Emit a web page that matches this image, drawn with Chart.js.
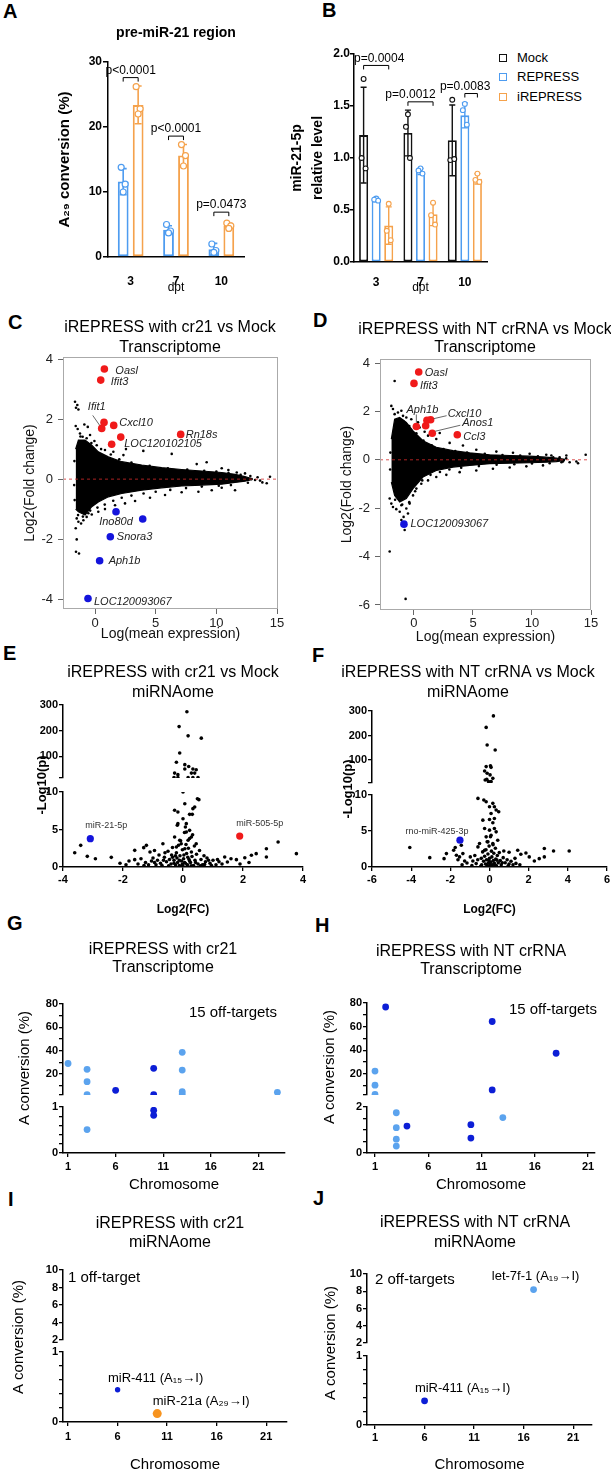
<!DOCTYPE html>
<html>
<head>
<meta charset="utf-8">
<title>iREPRESS figure</title>
<script src="https://cdn.jsdelivr.net/npm/chart.js@4.4.1/dist/chart.umd.min.js"></script>
<style>
  html, body { margin: 0; padding: 0; background: #fff; overflow: hidden; }
  #page { position: relative; width: 611px; height: 1471px; overflow: hidden; background: #fff;
          font-family: "Liberation Sans", Arial, Helvetica, sans-serif; color: #000; }
  #page canvas { position: absolute; }
  .tag { position: absolute; font-size: 20px; line-height: 20px; font-weight: bold; }
  .leg { position: absolute; left: 499px; font-size: 13px; line-height: 16px; white-space: nowrap; }
  .leg span { display: inline-block; width: 6px; height: 6px; border: 1.6px solid; margin-right: 10px; vertical-align: 0px; }
</style>
</head>
<body>
<div id="page">
  <div class="tag" style="left:3px;top:1px">A</div>
  <div class="tag" style="left:322px;top:0px">B</div>
  <div class="tag" style="left:8px;top:312px">C</div>
  <div class="tag" style="left:313px;top:310px">D</div>
  <div class="tag" style="left:3px;top:643px">E</div>
  <div class="tag" style="left:312px;top:645px">F</div>
  <div class="tag" style="left:7px;top:913px">G</div>
  <div class="tag" style="left:315px;top:915px">H</div>
  <div class="tag" style="left:8px;top:1189px">I</div>
  <div class="tag" style="left:313px;top:1188px">J</div>
</div>
<script>
// ---------------- data ----------------
const dpt = ['3', '7', '10'];

// A: A29 conversion of the pre-miR-21 region
const aRepMean = [11.6, 4.2, 1.2];
const aRepSd = [2.0, 0.6, 0.9];
const aRepPts = [[13.8, 11.2, 10.0], [5.0, 4.0, 3.7], [2.0, 1.0, 0.7]];
const aIrpMean = [23.4, 15.6, 4.8];
const aIrpSd = [2.9, 1.7, 0.4];
const aIrpPts = [[26.2, 22.8, 22.0], [17.3, 15.6, 14.0], [5.2, 4.8, 4.4]];
const aP = ['p<0.0001', 'p<0.0001', 'p=0.0473'];
const aPy = [27.6, 18.6, 6.9];
const aTicks = [0, 10, 20, 30];

// B: miR-21-5p relative level
const bSeries = ['Mock', 'REPRESS', 'iREPRESS'];
const bMean = [[1.22, 1.24, 1.17], [0.60, 0.87, 1.41], [0.35, 0.46, 0.80]];
const bSd = [[0.46, 0.22, 0.34], [0.02, 0.03, 0.12], [0.18, 0.11, 0.05]];
const bPts = [
  [[1.76, 1.00, 0.90], [1.42, 1.30, 1.00], [1.56, 0.98, 0.99]],
  [[0.61, 0.60, 0.59], [0.90, 0.88, 0.85], [1.52, 1.46, 1.32]],
  [[0.56, 0.30, 0.21], [0.57, 0.45, 0.36], [0.85, 0.79, 0.77]]
];
const bP = ['p=0.0004', 'p=0.0012', 'p=0.0083'];
const bPy = [1.89, 1.54, 1.62];
const bPpair = [[0, 2], [0, 2], [1, 2]];
const bTicks = [0, 0.5, 1, 1.5, 2];

// C: MA plot, iREPRESS with cr21 vs Mock (transcriptome)
const cEnvX  = [-1.6, -1.37, -0.82, -0.27, 0.27, 1.10, 2.20, 3.85, 5.49, 7.14, 8.79, 10.44, 11.54, 12.36, 12.9];
const cEnvHi = [1.0, 1.3, 1.3, 1.13, 0.91, 0.74, 0.58, 0.47, 0.38, 0.32, 0.27, 0.22, 0.16, 0.08, 0.02];
const cEnvLo = [-1.0, -1.09, -1.2, -0.92, -0.76, -0.59, -0.48, -0.37, -0.29, -0.23, -0.2, -0.17, -0.11, -0.07, -0.02];
const cDots = [
  [-1.65, 2.58], [-1.57, 2.38], [-1.37, 2.32], [-1.46, 2.47], [-1.59, 1.77], [-1.43, 1.67], [-0.88, 1.82], [-0.6, 1.74],
  [-1.24, 1.52], [-1.02, 1.41], [-0.69, 1.36], [-0.41, 1.47], [-0.05, 1.27], [0.14, 1.13], [0.82, 0.97], [1.51, 0.91],
  [2.34, 0.8], [2.55, 1.0], [3.98, 0.94], [6.32, 0.84], [8.38, 0.5], [9.2, 0.56], [10.44, 0.36], [10.99, 0.3],
  [11.68, 0.22], [12.36, 0.19], [12.91, 0], [13.19, -0.03], [13.79, -0.11], [14.15, -0.14], [14.42, 0.08], [12.09, -0.03],
  [11.54, -0.37], [10.44, -0.29], [9.62, -0.37], [8.52, -0.42], [7.14, -0.44], [5.77, -0.53], [4.53, -0.62], [3.3, -0.73],
  [2.47, -0.81], [1.65, -0.87], [0.82, -1.0], [0.27, -1.09], [-0.27, -1.18], [-0.69, -1.26], [-0.96, -1.37], [-1.15, -1.48],
  [-1.37, -1.42], [-1.51, -1.31], [-1.59, -1.64], [-1.51, -2.01], [-1.57, -2.42], [-1.32, -2.48], [-0.82, -1.09], [-0.55, -1.14],
  [-1.7, 0.6], [-1.72, -0.2], [-1.68, -0.7], [-1.2, 1.42], [-0.3, 1.2], [0.5, 1.0], [1.3, 0.82], [2.0, 0.66], [3.0, 0.55],
  [4.5, 0.44], [6.0, 0.36], [7.6, 0.32], [9.0, 0.28], [10.0, 0.25], [11.0, 0.2], [12.0, 0.14], [12.8, 0.1], [13.4, 0.06],
  [13.6, -0.05], [12.6, -0.12], [11.2, -0.2], [10.2, -0.22], [8.8, -0.25], [7.5, -0.3], [6.2, -0.36], [5.0, -0.42],
  [4.0, -0.48], [3.0, -0.55], [2.2, -0.62], [1.5, -0.72], [0.8, -0.85], [0.2, -0.95], [-0.4, -1.05], [-1.0, -1.25], [-1.4, -1.2]
];
const cUp = [[0.77, 3.67], [0.47, 3.3], [0.55, 1.69], [0.74, 1.89], [1.54, 1.79], [2.12, 1.40], [1.37, 1.16], [7.06, 1.49]];
const cUpNames = ['Oasl', 'Ifit3', 'Ifit1', '', 'Cxcl10', 'LOC120102105', '', 'Rn18s'];
const cDown = [[1.73, -1.09], [3.93, -1.33], [1.26, -1.92], [0.38, -2.72], [-0.58, -3.98]];
const cDownNames = ['Ino80d', '', 'Snora3', 'Aph1b', 'LOC120093067'];
const cXTicks = [0, 5, 10, 15];
const cYTicks = [-4, -2, 0, 2, 4];

// D: MA plot, iREPRESS with NT crRNA vs Mock (transcriptome)
const dEnvX  = [-1.92, -1.64, -1.21, -0.65, -0.08, 0.76, 1.89, 3.31, 4.72, 6.41, 8.11, 9.8, 11.2, 12.06, 12.8];
const dEnvHi = [0.86, 1.68, 1.75, 1.55, 1.2, 0.79, 0.52, 0.38, 0.29, 0.21, 0.18, 0.15, 0.11, 0.07, 0.02];
const dEnvLo = [-0.92, -1.47, -1.74, -1.6, -1.19, -0.71, -0.44, -0.3, -0.23, -0.16, -0.14, -0.12, -0.1, -0.07, -0.02];
const dDots = [
  [-1.64, 3.26], [-1.92, 2.23], [-1.78, 2.1], [-1.64, 1.89], [-1.36, 1.96], [-1.07, 2.03], [-0.93, 1.82], [-0.65, 1.75],
  [-0.23, 1.68], [0.34, 1.55], [0.48, 1.34], [0.9, 1.16], [1.19, 1.0], [1.89, 0.86], [2.18, 1.11], [3.02, 0.7], [4.15, 0.59],
  [5.28, 0.42], [6.98, 0.34], [8.39, 0.29], [9.8, 0.25], [11.21, 0.21], [11.64, 0.18], [12.34, 0.11], [12.63, -0.07],
  [13.19, -0.1], [13.76, -0.07], [13.9, -0.14], [14.55, 0.21], [12.91, 0.18],
  [-2.06, -3.79], [-0.71, -5.75], [-0.79, -2.9], [-2.06, -1.6], [-1.92, -1.81], [-1.78, -1.95], [-1.5, -2.04], [-1.21, -2.15],
  [-1.07, -1.88], [-0.65, -2.01], [-0.51, -2.22], [-0.37, -1.81], [-0.88, -2.36], [-0.08, -1.47], [0.2, -1.19], [0.62, -0.99],
  [1.19, -0.85], [1.89, -0.71], [2.74, -0.62], [3.87, -0.51], [5.28, -0.44], [6.69, -0.37], [8.11, -0.32], [9.52, -0.27],
  [10.93, -0.23], [-1.07, -2.49],
  [-2.0, 0.3], [-2.02, -0.4], [-1.5, 1.5], [-0.9, 1.6], [-0.4, 1.4], [0.2, 1.1], [0.8, 0.8], [1.5, 0.6], [2.5, 0.45],
  [3.5, 0.36], [4.5, 0.3], [6.0, 0.25], [7.5, 0.2], [9.0, 0.18], [10.5, 0.15], [11.8, 0.1], [12.9, 0.06], [12.5, -0.1],
  [11.5, -0.14], [10.0, -0.15], [8.5, -0.18], [7.0, -0.2], [5.5, -0.26], [4.0, -0.33], [3.0, -0.4], [2.2, -0.5],
  [1.4, -0.62], [0.7, -0.85], [0.1, -1.3], [-0.4, -1.75], [-1.0, -1.85], [-1.6, -1.65]
];
const dUp = [[0.40, 3.63], [0.0, 3.16], [0.2, 1.38], [0.99, 1.41], [1.41, 1.66], [1.1, 1.64], [1.55, 1.10], [3.67, 1.04]];
const dUpNames = ['Oasl', 'Ifit3', 'Aph1b', '', 'Cxcl10', '', 'Anos1', 'Ccl3'];
const dDown = [[-0.85, -2.66]];
const dDownNames = ['LOC120093067'];
const dYTicks = [-6, -4, -2, 0, 2, 4];

// E: volcano, iREPRESS with cr21 vs Mock (miRNAome)
const eDots = [
  [-3.61, 1.91], [-3.41, 2.89], [-3.19, 1.42], [-2.92, 1.11], [-2.39, 1.29],
  [-1.8, 0.8], [-1.61, 2.22], [-1.61, 0.98], [-1.5, 0.4], [-1.4, 1.1], [-1.31, 2.58], [-1.25, 0.6], [-1.22, 2.89], [-1.15, 0.3],
  [-1.1, 2.0], [-1.05, 0.8], [-1.0, 1.2], [-0.95, 2.2], [-0.9, 0.3], [-0.85, 0.9], [-0.8, 1.6], [-0.75, 0.5], [-0.7, 0.2],
  [-0.67, 3.1], [-0.62, 1.3], [-0.6, 1.9], [-0.55, 0.7], [-0.5, 2.1], [-0.45, 1.0], [-0.4, 0.4], [-0.38, 1.6], [-0.35, 2.6],
  [-0.3, 0.9], [-0.3, 0.5], [-0.28, 4.0], [-0.25, 0.3], [-0.22, 1.9], [-0.2, 1.2], [-0.18, 0.6], [-0.15, 2.9], [-0.12, 0.2],
  [-0.1, 1.5], [-0.08, 3.5], [-0.05, 0.8], [-0.02, 2.3], [0, 0.1], [0.02, 1.1], [0.05, 4.6], [0.08, 0.5], [0.1, 3.0],
  [0.12, 1.8], [0.15, 0.3], [0.18, 2.5], [0.2, 1.0], [0.22, 3.8], [0.25, 0.6], [0.28, 2.0], [0.3, 1.4], [0.32, 4.3],
  [0.35, 0.2], [0.38, 2.8], [0.4, 0.9], [0.45, 1.7], [0.5, 0.4], [0.55, 2.2], [0.6, 1.0], [0.65, 0.3], [0.7, 1.5],
  [0.75, 0.7], [0.8, 1.2], [0.9, 0.5], [1.0, 0.9], [1.1, 0.3], [1.2, 0.7], [1.3, 0.4], [1.39, 1.33], [1.48, 0.67],
  [1.6, 1.1], [1.78, 0.98], [2.06, 1.24], [2.28, 1.56], [2.44, 1.78], [2.78, 2.44], [2.78, 1.33], [3.17, 3.33], [3.78, 1.78],
  [-1.3, 0.2], [-0.95, 0.6], [-0.65, 0.9], [-0.48, 0.15], [-0.35, 1.3], [-0.12, 0.9], [0.05, 0.6], [0.16, 1.3], [0.27, 0.15],
  [0.42, 0.6], [0.58, 0.15], [0.72, 0.35], [0.85, 0.9], [0.95, 0.2], [1.15, 1.0], [-1.9, 0.3], [-2.1, 0.5], [1.9, 0.4],
  [2.2, 0.6], [-0.02, 0.4], [0.03, 1.6], [0.13, 0.05], [-0.07, 0.05], [0.22, 0.8], [-0.25, 1.5],
  [-0.28, 7.56], [-0.17, 7.33], [0, 10], [0.06, 8.44], [0.48, 9.1], [0.53, 8.98], [0.39, 8.0], [0.33, 7.78], [0.31, 7.02],
  [-0.17, 5.78], [-0.19, 5.56], [0.11, 5.78], [0.22, 7.02], [0.22, 4.89], [0.11, 4.67], [0.17, 3.56], [-0.11, 3.56],
  [-0.06, 3.11], [0.28, 4.0], [0.44, 3.11], [0.06, 2.44], [-0.22, 2.67], [0, 6.44], [0.08, 5.33],
  [0.13, 274], [-0.13, 216], [0.17, 180], [0.61, 171], [-0.11, 113], [-0.22, 77], [0.06, 68], [0.19, 61], [0.33, 51],
  [0.06, 51], [0.28, 35], [0.39, 35], [-0.28, 35], [-0.17, 29], [-0.3, 18], [-0.17, 18], [0.17, 18], [0.33, 18], [0.5, 18], [0.44, 48]
];
const eBlue = [[-3.09, 3.78]];
const eBlueNames = ['miR-21-5p'];
const eRed = [[1.89, 4.13]];
const eRedNames = ['miR-505-5p'];

// F: volcano, iREPRESS with NT crRNA vs Mock (miRNAome)
const fDots = [
  [-4.07, 2.7], [-3.05, 1.3], [-2.32, 1.16], [-2.2, 1.86], [-1.83, 2.33], [-1.75, 2.7], [-1.69, 1.63], [-1.61, 1.0],
  [-1.53, 1.4], [-1.44, 3.02], [-1.36, 1.86], [-1.27, 0.84], [-1.15, 0.56], [-0.98, 1.4], [-0.85, 0.84], [-0.68, 0.47],
  [-0.59, 2.79], [-0.51, 3.26], [-0.42, 1.2], [-0.4, 0.3], [-0.35, 2.1], [-0.3, 0.8],
  [-0.25, 1.5], [-0.2, 0.4], [-0.18, 2.4], [-0.15, 1.0], [-0.12, 3.5], [-0.1, 0.2], [-0.08, 1.8], [-0.05, 0.6], [-0.02, 2.9],
  [0, 1.2], [0.02, 0.1], [0.05, 4.2], [0.08, 0.7], [0.1, 2.2], [0.12, 1.4], [0.15, 0.3], [0.18, 3.1], [0.2, 0.9], [0.22, 1.9],
  [0.25, 0.5], [0.3, 2.6], [0.32, 1.1], [0.35, 0.2], [0.4, 1.6], [0.45, 0.6], [0.5, 2.0], [0.55, 0.9], [0.6, 0.3], [0.7, 1.3],
  [0.8, 0.6], [0.9, 1.0], [1.0, 0.4], [1.1, 0.8], [1.2, 0.3], [-0.9, 0.2], [-0.6, 1.0], [-0.45, 0.1], [0.03, 0.45], [-0.03, 0.9],
  [0.27, 0.1], [0.38, 0.95], [0.65, 0.6], [0.95, 0.15], [1.35, 0.5], [1.55, 0.3], [-1.4, 0.3], [-0.75, 1.6],
  [1.44, 2.33], [1.6, 1.77], [1.86, 1.95], [2.03, 1.4], [2.29, 0.84], [2.54, 1.16], [2.8, 2.56], [2.8, 1.4], [3.27, 2.23],
  [4.07, 2.23], [1.3, 1.2], [0.73, 2.23], [1.0, 2.05],
  [-0.59, 9.53], [-0.29, 9.3], [-0.17, 9.07], [0, 8.37], [0.08, 7.44], [0.17, 8.84], [0.25, 8.37], [0.34, 7.91], [0.47, 7.67],
  [0, 6.6], [0.25, 6.74], [-0.34, 6.51], [0.17, 6.14], [-0.25, 5.35], [0, 5.12], [0.25, 5.35], [0.34, 4.88], [-0.17, 4.19],
  [-0.08, 3.49], [0.17, 3.26], [-0.25, 2.33], [0.42, 3.72], [0.08, 4.42],
  [0.2, 280], [-0.17, 233], [-0.12, 161], [0.29, 141], [-0.17, 73], [0.05, 76], [0.08, 70], [-0.25, 55], [-0.12, 46],
  [0.03, 39], [-0.22, 18], [-0.05, 12], [0.08, 12], [-0.14, 21], [0.17, 25]
];
const fBlue = [[-1.51, 3.72]];
const fBlueNames = ['rno-miR-425-3p'];

// G-J: off-target A conversion per chromosome
const chrTicks = [1, 6, 11, 16, 21];
const gChrLight = [1, 3, 3, 3, 3, 13, 13, 13, 13, 23];
const gValLight = [29, 24, 13.4, 2.3, 0.51, 38.6, 23.4, 4.9, 2.8, 4.3];
const gChrDark = [6, 10, 10, 10, 10];
const gValDark = [6, 24.9, 2.3, 0.93, 0.82];
const hChrLight = [1, 1, 1, 3, 3, 3, 3, 13];
const hValLight = [22.3, 10.3, 2.5, 1.75, 1.1, 0.6, 0.3, 1.54];
const hChrDark = [2, 12, 18, 12, 4, 10, 10];
const hValDark = [76.6, 64.3, 37.4, 6.3, 1.17, 1.23, 0.65];
const iChrDark = [6], iValDark = [0.46], iDarkNames = ['miR-411 (A\u2081\u2085\u2192I)'];
const iChrOrange = [10], iValOrange = [0.12], iOrangeNames = ['miR-21a (A\u2082\u2089\u2192I)'];
const jChrLight = [17], jValLight = [8.2], jLightNames = ['let-7f-1 (A\u2081\u2089\u2192I)'];
const jChrDark = [6], jValDark = [0.35], jDarkNames = ['miR-411 (A\u2081\u2085\u2192I)'];

// ---------------- styling / layout ----------------
const FONT = '"Liberation Sans", Arial, Helvetica, sans-serif';
const BLUE = '#4e9cf0', ORANGE = '#f5a24c', MOCK = '#111111';
const LIGHT = '#5ba3ee', DARK = '#0c1ed6', ORANGE2 = '#f7931e';
const HIRED = '#f01a1a', HIBLUE = '#1414dc';

Chart.defaults.font.family = FONT;
Chart.defaults.color = '#000';
Chart.defaults.animation = false;
Chart.defaults.responsive = false;
Chart.defaults.maintainAspectRatio = false;
Chart.defaults.devicePixelRatio = 1;
Chart.defaults.events = [];
Chart.defaults.plugins.legend.display = false;
Chart.defaults.plugins.tooltip.enabled = false;

const page = document.getElementById('page');
function canvasAt(l, t, r, b) {
  const c = document.createElement('canvas');
  const w = Math.round(r - l), h = Math.round(b - t);
  c.width = w; c.height = h;
  c.style.left = l + 'px'; c.style.top = t + 'px';
  c.style.width = w + 'px'; c.style.height = h + 'px';
  page.appendChild(c);
  return c;
}
const xy = p => ({ x: p[0], y: p[1] });
const zip = (xs, ys) => xs.map((x, i) => ({ x, y: ys[i] }));
const setTicks = vals => s => { s.ticks = vals.map(v => ({ value: v })); };
const noteList = (ds, names, pos) =>
  names.map((n, i) => n ? Object.assign({ ds, i, text: n }, pos[n]) : null).filter(Boolean);
// invisible right-hand box so the full-width title can be centred like the original
const padAxis = w => ({
  type: 'linear', axis: 'y', position: 'right', min: 0, max: 1, afterBuildTicks: setTicks([0, 1]),
  afterFit: s => { s.width = w; }, ticks: { display: false }, grid: { display: false }, border: { display: false }
});

// error bars, replicate dots and p-value brackets for the bar panels
const barExtras = {
  id: 'barExtras',
  afterDatasetsDraw(chart, args, o) {
    const ctx = chart.ctx, ys = chart.scales.y;
    ctx.save();
    chart.data.datasets.forEach((ds, i) => {
      chart.getDatasetMeta(i).data.forEach((bar, j) => {
        const m = ds.data[j], s = ds.sd[j], x = bar.x;
        const t = ys.getPixelForValue(m + s), b = ys.getPixelForValue(Math.max(m - s, 0));
        ctx.strokeStyle = ds.borderColor; ctx.lineWidth = o.lw;
        ctx.beginPath();
        ctx.moveTo(x, t); ctx.lineTo(x, b);
        ctx.moveTo(x - o.cap, t); ctx.lineTo(x + o.cap, t);
        ctx.moveTo(x - o.cap, b); ctx.lineTo(x + o.cap, b);
        ctx.stroke();
        ds.pts[j].forEach((v, k) => {
          ctx.beginPath();
          ctx.arc(x + o.jitter[k], ys.getPixelForValue(v), o.r, 0, Math.PI * 2);
          ctx.fillStyle = '#fff'; ctx.fill();
          ctx.lineWidth = o.dotLw; ctx.stroke();
        });
      });
    });
    ctx.strokeStyle = '#000'; ctx.fillStyle = '#000'; ctx.lineWidth = 1;
    ctx.font = o.font; ctx.textAlign = 'center'; ctx.textBaseline = 'bottom';
    o.brackets.forEach(br => {
      const x1 = chart.getDatasetMeta(br.from).data[br.g].x;
      const x2 = chart.getDatasetMeta(br.to).data[br.g].x;
      const y = ys.getPixelForValue(br.y);
      ctx.beginPath();
      ctx.moveTo(x1, y + o.leg); ctx.lineTo(x1, y); ctx.lineTo(x2, y); ctx.lineTo(x2, y + o.leg);
      ctx.stroke();
      ctx.fillText(br.text, (x1 + x2) / 2 + br.dx, y - 1);
    });
    ctx.restore();
  }
};

// grey frame + dashed zero line of the MA plots
const maFrame = {
  id: 'maFrame',
  afterDatasetsDraw(chart) {
    const { ctx, chartArea: a, scales } = chart;
    const y0 = scales.y.getPixelForValue(0);
    ctx.save();
    ctx.strokeStyle = '#d42a2a'; ctx.lineWidth = 0.8; ctx.setLineDash([3, 3]);
    ctx.beginPath(); ctx.moveTo(a.left, y0); ctx.lineTo(a.right, y0); ctx.stroke();
    ctx.setLineDash([]);
    ctx.strokeStyle = '#aaaaaa'; ctx.lineWidth = 1;
    ctx.strokeRect(a.left + 0.5, a.top + 0.5, a.right - a.left - 1, a.bottom - a.top - 1);
    ctx.restore();
  }
};

// point labels, free annotations, rotated axis title
const notes = {
  id: 'notes',
  afterDatasetsDraw(chart, args, o) {
    const ctx = chart.ctx, a = chart.chartArea;
    ctx.save();
    ctx.fillStyle = o.color || '#000';
    (o.points || []).forEach(n => {
      const el = chart.getDatasetMeta(n.ds).data[n.i];
      if (!el) return;
      if (n.line) {
        ctx.strokeStyle = '#444'; ctx.lineWidth = 0.8;
        ctx.beginPath();
        ctx.moveTo(el.x + n.line[0], el.y + n.line[1]); ctx.lineTo(el.x + n.line[2], el.y + n.line[3]);
        ctx.stroke();
      }
      ctx.font = o.font; ctx.textAlign = n.align || 'left'; ctx.textBaseline = 'middle';
      ctx.fillText(n.text, el.x + n.dx, el.y + n.dy);
    });
    (o.texts || []).forEach(t => {
      ctx.font = t.font; ctx.textAlign = t.align; ctx.textBaseline = 'middle';
      ctx.fillText(t.text, (t.align === 'right' ? a.right : a.left) + t.dx, a.top + t.dy);
    });
    if (o.yTitle) {
      ctx.font = o.yTitle.font; ctx.textAlign = 'center'; ctx.textBaseline = 'middle';
      ctx.translate(a.left + o.yTitle.dx, a.top + o.yTitle.dy);
      ctx.rotate(-Math.PI / 2);
      ctx.fillText(o.yTitle.text, 0, 0);
    }
    ctx.restore();
  }
};

// ---------------- A ----------------
new Chart(canvasAt(0, 25, 252, 295), {
  type: 'bar',
  data: {
    labels: dpt,
    datasets: [
      { label: 'REPRESS', data: aRepMean, sd: aRepSd, pts: aRepPts, backgroundColor: '#fff', borderColor: BLUE,
        borderWidth: 2, borderSkipped: false, categoryPercentage: 0.66, barPercentage: 0.72 },
      { label: 'iREPRESS', data: aIrpMean, sd: aIrpSd, pts: aIrpPts, backgroundColor: '#fff', borderColor: ORANGE,
        borderWidth: 2, borderSkipped: false, categoryPercentage: 0.66, barPercentage: 0.72 }
    ]
  },
  options: {
    layout: { padding: { top: 0, right: 8, bottom: 0, left: 0 } },
    plugins: {
      title: { display: true, text: 'pre-miR-21 region', fullSize: false, color: '#000',
               font: { size: 14, weight: 'bold', lineHeight: '16.8px' }, padding: { top: 0, bottom: 20.2 } },
      barExtras: { lw: 1.6, cap: 3.5, r: 3, dotLw: 1.2, jitter: [-2, 2, 0], font: '12px ' + FONT, leg: 4,
                   brackets: aP.map((t, g) => ({ g, from: 0, to: 1, y: aPy[g], text: t, dx: 0 })) }
    },
    scales: {
      x: { grid: { display: false }, border: { color: '#000', width: 1.5 },
           ticks: { font: { size: 12, weight: 'bold' }, padding: 9.8 },
           title: { display: true, text: 'dpt', font: { size: 12, lineHeight: '14.4px' }, padding: 0 },
           afterFit: s => { s.height = 38; } },
      y: { min: 0, max: 30, afterBuildTicks: setTicks(aTicks), border: { color: '#000', width: 1.5 },
           grid: { drawOnChartArea: false, tickLength: 5, color: '#000', lineWidth: 1.5 },
           ticks: { font: { size: 12, weight: 'bold' }, padding: 1, autoSkip: false },
           title: { display: true, text: 'A\u2082\u2089 conversion (%)', font: { size: 15, weight: 'bold', lineHeight: '18px' },
                    padding: { top: 56, bottom: 0 } },
           afterFit: s => { s.width = 108; } }
    }
  },
  plugins: [barExtras]
});

// ---------------- B ----------------
const bColors = [MOCK, BLUE, ORANGE];
const bPdx = [3, -10, -6];
new Chart(canvasAt(280, 42, 495, 295), {
  type: 'bar',
  data: {
    labels: dpt,
    datasets: bSeries.map((name, i) => ({
      label: name, data: bMean[i], sd: bSd[i], pts: bPts[i], backgroundColor: '#fff', borderColor: bColors[i],
      borderWidth: 1.8, borderSkipped: false, categoryPercentage: 0.85, barPercentage: 0.72
    }))
  },
  options: {
    layout: { padding: { top: 12, right: 8, bottom: 0, left: 0 } },
    plugins: {
      barExtras: { lw: 1.4, cap: 3, r: 2.4, dotLw: 1.1, jitter: [0, -2, 2], font: '12px ' + FONT, leg: 4,
                   brackets: bP.map((t, g) => ({ g, from: bPpair[g][0], to: bPpair[g][1], y: bPy[g], text: t, dx: bPdx[g] })) }
    },
    scales: {
      x: { grid: { display: false }, border: { color: '#000', width: 1.5 },
           ticks: { font: { size: 12, weight: 'bold' }, padding: 5.8 },
           title: { display: true, text: 'dpt', font: { size: 12, lineHeight: '14.4px' }, padding: 0 },
           afterFit: s => { s.height = 33; } },
      y: { min: 0, max: 2, afterBuildTicks: setTicks(bTicks), border: { color: '#000', width: 1.5 },
           grid: { drawOnChartArea: false, tickLength: 4, color: '#000', lineWidth: 1.5 },
           ticks: { font: { size: 12, weight: 'bold' }, padding: 0, autoSkip: false, callback: v => v.toFixed(1) },
           title: { display: true, text: ['miR-21-5p', 'relative level'], font: { size: 14, weight: 'bold', lineHeight: '21px' },
                    padding: { top: 6.5, bottom: 0 } },
           afterFit: s => { s.width = 74; } }
    }
  },
  plugins: [barExtras]
});
const legCenters = [58, 77, 97];
bSeries.forEach((name, i) => {
  const d = document.createElement('div');
  d.className = 'leg';
  d.style.top = (legCenters[i] - 8) + 'px';
  d.innerHTML = '<span style="border-color:' + bColors[i] + '"></span>' + name;
  page.appendChild(d);
});

// ---------------- C, D (MA plots) ----------------
function maPanel(p) {
  const [cl, ct, cr, cb] = p.box, [x0, y0, x1, y1] = p.area;
  const W = x0 - cl, H = cb - y1, X = cr - x1, P = 2;
  const pb = y0 - ct - P - p.title.length * p.titleLH;
  return new Chart(canvasAt(cl, ct, cr, cb), {
    type: 'scatter',
    data: {
      datasets: [
        { type: 'line', data: zip(p.envX, p.envHi), fill: '+1', backgroundColor: '#000', borderColor: '#000',
          borderWidth: 1.2, pointRadius: 0, tension: 0, order: 5 },
        { type: 'line', data: zip(p.envX, p.envLo), fill: false, borderColor: '#000',
          borderWidth: 1.2, pointRadius: 0, tension: 0, order: 5 },
        { data: p.dots.map(xy), backgroundColor: '#000', borderWidth: 0, pointRadius: 1.3, order: 4 },
        { data: p.up.map(xy), backgroundColor: HIRED, borderWidth: 0, pointRadius: 3.8, order: 1 },
        { data: p.down.map(xy), backgroundColor: HIBLUE, borderWidth: 0, pointRadius: 3.8, order: 1 }
      ]
    },
    options: {
      layout: { padding: { top: P, right: 0, bottom: 0, left: 0 } },
      plugins: {
        title: { display: true, text: p.title, color: '#000', font: { size: 16, weight: 'normal', lineHeight: p.titleLH + 'px' },
                 padding: { top: 0, bottom: pb } },
        notes: { font: 'italic 11px ' + FONT, color: '#222',
                 points: noteList(3, p.upNames, p.labels).concat(noteList(4, p.downNames, p.labels)) }
      },
      scales: {
        x: { type: 'linear', min: p.xMin, max: p.xMax, afterBuildTicks: setTicks(cXTicks), afterFit: s => { s.height = H; },
             ticks: { font: { size: 13 }, color: '#222', padding: p.xPad, autoSkip: false },
             grid: { drawOnChartArea: false, tickLength: 5, color: '#666' }, border: { display: false },
             title: { display: true, text: 'Log(mean expression)', color: '#111', font: { size: 14, lineHeight: '16.8px' }, padding: 0 } },
        y: { type: 'linear', min: p.yMin, max: p.yMax, afterBuildTicks: setTicks(p.yTicks), afterFit: s => { s.width = W; },
             ticks: { font: { size: 13 }, color: '#222', padding: 5, autoSkip: false },
             grid: { drawOnChartArea: false, tickLength: 5, color: '#666' }, border: { display: false },
             title: { display: true, text: 'Log2(Fold change)', color: '#111', font: { size: 14, lineHeight: '16.8px' },
                      padding: { top: p.yTitlePad, bottom: 0 } } },
        yPad: padAxis(X)
      }
    },
    plugins: [maFrame, notes]
  });
}

maPanel({
  box: [10, 316, 330, 643], area: [63, 357, 278, 609],
  title: ['iREPRESS with cr21 vs Mock', 'Transcriptome'], titleLH: 19.5,
  xMin: -2.64, xMax: 15.08, yMin: -4.33, yMax: 4.07, yTicks: cYTicks, xPad: 1.2, yTitlePad: 11.6,
  envX: cEnvX, envHi: cEnvHi, envLo: cEnvLo, dots: cDots,
  up: cUp, upNames: cUpNames, down: cDown, downNames: cDownNames,
  labels: {
    Oasl: { dx: 11, dy: 2 }, Ifit3: { dx: 10, dy: 2 },
    Ifit1: { dx: -5, dy: -21, align: 'center', line: [-9, -13, -2, -3] },
    Cxcl10: { dx: 5.5, dy: -2 }, LOC120102105: { dx: 3.5, dy: 7 }, Rn18s: { dx: 5, dy: 1 },
    Ino80d: { dx: 0, dy: 10.5, align: 'center' }, Snora3: { dx: 6.5, dy: 0 }, Aph1b: { dx: 9, dy: 0 },
    LOC120093067: { dx: 6, dy: 3 }
  }
});

maPanel({
  box: [330, 319, 640, 646], area: [380, 359, 591, 610],
  title: ['iREPRESS with NT crRNA vs Mock', 'Transcriptome'], titleLH: 18,
  xMin: -2.88, xMax: 15.0, yMin: -6.21, yMax: 4.17, yTicks: dYTicks, xPad: 0.2, yTitlePad: 8.6,
  envX: dEnvX, envHi: dEnvHi, envLo: dEnvLo, dots: dDots,
  up: dUp, upNames: dUpNames, down: dDown, downNames: dDownNames,
  labels: {
    Oasl: { dx: 6, dy: 1 }, Ifit3: { dx: 6, dy: 3 },
    Aph1b: { dx: 6, dy: -17, align: 'center', line: [0, -12, 0, -4] },
    Cxcl10: { dx: 17, dy: -6, line: [3, -1, 16, -4] },
    Anos1: { dx: 30, dy: -10, line: [3, -2, 28, -8] },
    Ccl3: { dx: 6, dy: 2 }, LOC120093067: { dx: 6.5, dy: -0.5 }
  }
});

// ---------------- E-J (broken y axis) ----------------
function brokenPanel(p) {
  const [cl, ct, cr, cb] = p.box, [x0, y0, x1, y1] = p.area;
  const W = x0 - cl, H = cb - y1, X = cr - x1, P = 2;
  const pb = y0 - ct - P - p.title.length * p.titleLH;
  const seg = (s, weight) => ({
    type: 'linear', axis: 'y', position: 'left', stack: 'brk', stackWeight: weight, min: s.min, max: s.max,
    afterBuildTicks: setTicks(s.ticks), afterFit: sc => { sc.width = W; },
    ticks: { font: { size: 11, weight: 'bold' }, padding: 1, autoSkip: false,
             callback: v => s.show.includes(v) ? String(v) : '' },
    grid: { drawOnChartArea: false, tickLength: 4, color: '#000', lineWidth: 1.3 },
    border: { color: '#000', width: 1.5 }
  });
  const gap = {
    type: 'linear', axis: 'y', position: 'left', stack: 'brk', stackWeight: p.weights[1], min: 0, max: 1,
    afterBuildTicks: setTicks([0, 1]), afterFit: sc => { sc.width = W; },
    ticks: { display: false }, grid: { display: false }, border: { display: false },
    title: p.gapTitle
      ? { display: true, text: p.gapTitle.text, font: p.gapTitle.font, padding: { top: p.gapTitle.pad, bottom: 0 } }
      : { display: false }
  };
  return new Chart(canvasAt(cl, ct, cr, cb), {
    type: 'scatter',
    data: { datasets: p.datasets },
    options: {
      layout: { padding: { top: P, right: 0, bottom: 0, left: 0 } },
      plugins: {
        title: { display: true, text: p.title, color: '#000', font: { size: 16, weight: 'normal', lineHeight: p.titleLH + 'px' },
                 padding: { top: 0, bottom: pb } },
        notes: p.notes || {}
      },
      scales: {
        yL: seg(p.lower, p.weights[2]),
        yG: gap,
        yU: seg(p.upper, p.weights[0]),
        yPad: padAxis(X),
        x: { type: 'linear', position: 'bottom', min: p.x.min, max: p.x.max, afterBuildTicks: setTicks(p.x.ticks),
             afterFit: sc => { sc.height = H; },
             ticks: { font: { size: 11, weight: 'bold' }, padding: p.x.pad, autoSkip: false, callback: v => String(v) },
             grid: { drawOnChartArea: false, tickLength: 4, color: '#000', lineWidth: 1.3 },
             border: { color: '#000', width: 1.5 },
             title: { display: true, text: p.xTitle, font: p.xTitleFont, padding: 0 } }
      }
    },
    plugins: [notes]
  });
}
const dot = (color, r, order) => ({ backgroundColor: color, borderWidth: 0, pointRadius: r, order });
function segSets(pts, cut, style) {
  return [
    Object.assign({ data: pts.filter(q => q.y <= cut), yAxisID: 'yL' }, style),
    Object.assign({ data: pts.filter(q => q.y > cut), yAxisID: 'yU' }, style)
  ];
}
const one = (pts, cut, style) => Object.assign({ data: pts, yAxisID: pts[0].y > cut ? 'yU' : 'yL' }, style);
const volTitle = { text: '-Log10(p)', font: { size: 13, weight: 'bold', lineHeight: '15.6px' } };
const chrTitleFont = { size: 15, lineHeight: '18px' };

// E
brokenPanel({
  box: [0, 661, 346, 917], area: [63, 705, 303, 867],
  title: ['iREPRESS with cr21 vs Mock', 'miRNAome'], titleLH: 20,
  weights: [73, 14, 75],
  lower: { min: 0, max: 10, ticks: [0, 5, 10], show: [0, 5, 10] },
  upper: { min: 16, max: 300, ticks: [16, 100, 200, 300], show: [100, 200, 300] },
  gapTitle: Object.assign({ pad: 34.2 }, volTitle),
  x: { min: -4, max: 4, ticks: [-4, -2, 0, 2, 4], pad: 2.4 },
  xTitle: 'Log2(FC)', xTitleFont: { size: 12, weight: 'bold', lineHeight: '14.4px' },
  datasets: [
    one(eBlue.map(xy), 10, dot(HIBLUE, 3.6, 0)),
    one(eRed.map(xy), 10, dot(HIRED, 3.6, 0)),
    ...segSets(eDots.map(xy), 10, dot('#000', 1.8, 1))
  ],
  notes: { font: '9px ' + FONT, color: '#333',
           points: [{ ds: 0, i: 0, text: eBlueNames[0], dx: 16, dy: -13, align: 'center' },
                    { ds: 1, i: 0, text: eRedNames[0], dx: 20, dy: -13, align: 'center' }] }
});

// F
brokenPanel({
  box: [321, 661, 615, 917], area: [372, 711, 607, 867],
  title: ['iREPRESS with NT crRNA vs Mock', 'miRNAome'], titleLH: 20,
  weights: [72, 12, 72],
  lower: { min: 0, max: 10, ticks: [0, 5, 10], show: [0, 5, 10] },
  upper: { min: 6, max: 300, ticks: [6, 100, 200, 300], show: [100, 200, 300] },
  gapTitle: Object.assign({ pad: 19.2 }, volTitle),
  x: { min: -6, max: 6, ticks: [-6, -4, -2, 0, 2, 4, 6], pad: 2.4 },
  xTitle: 'Log2(FC)', xTitleFont: { size: 12, weight: 'bold', lineHeight: '14.4px' },
  datasets: [
    one(fBlue.map(xy), 10, dot(HIBLUE, 3.6, 0)),
    ...segSets(fDots.map(xy), 10, dot('#000', 1.8, 1))
  ],
  notes: { font: '9px ' + FONT, color: '#333',
           points: [{ ds: 0, i: 0, text: fBlueNames[0], dx: -23, dy: -9, align: 'center' }] }
});

// G
brokenPanel({
  box: [0, 939, 326, 1194], area: [63, 1004, 285, 1153],
  title: ['iREPRESS with cr21', 'Transcriptome'], titleLH: 18,
  weights: [91, 12, 46],
  lower: { min: 0, max: 1, ticks: [0, 0.2, 0.4, 0.6, 0.8, 1], show: [0, 1] },
  upper: { min: 2, max: 80, ticks: [2, 10, 20, 30, 40, 50, 60, 70, 80], show: [20, 40, 60, 80] },
  x: { min: 0.47, max: 23.8, ticks: chrTicks, pad: 3.4 },
  xTitle: 'Chromosome', xTitleFont: chrTitleFont,
  datasets: [
    ...segSets(zip(gChrLight, gValLight), 1, dot(LIGHT, 3.4, 1)),
    ...segSets(zip(gChrDark, gValDark), 1, dot(DARK, 3.4, 0))
  ],
  notes: { texts: [{ text: '15 off-targets', align: 'right', dx: -8, dy: 9, font: '15px ' + FONT }],
           yTitle: { text: 'A conversion (%)', dx: -38, dy: 64, font: '15px ' + FONT } }
});

// H
brokenPanel({
  box: [320, 941, 622, 1194], area: [367, 1003, 595, 1153],
  title: ['iREPRESS with NT crRNA', 'Transcriptome'], titleLH: 18,
  weights: [92, 12, 46],
  lower: { min: 0, max: 2, ticks: [0, 0.5, 1, 1.5, 2], show: [0, 2] },
  upper: { min: 2, max: 80, ticks: [2, 10, 20, 30, 40, 50, 60, 70, 80], show: [20, 40, 60, 80] },
  x: { min: 0.25, max: 21.65, ticks: chrTicks, pad: 3.4 },
  xTitle: 'Chromosome', xTitleFont: chrTitleFont,
  datasets: [
    ...segSets(zip(hChrLight, hValLight), 2, dot(LIGHT, 3.4, 1)),
    ...segSets(zip(hChrDark, hValDark), 2, dot(DARK, 3.4, 0))
  ],
  notes: { texts: [{ text: '15 off-targets', align: 'right', dx: 2, dy: 7, font: '15px ' + FONT }],
           yTitle: { text: 'A conversion (%)', dx: -37, dy: 64, font: '15px ' + FONT } }
});

// I
brokenPanel({
  box: [0, 1212, 340, 1474], area: [63, 1270, 287, 1422],
  title: ['iREPRESS with cr21', 'miRNAome'], titleLH: 19,
  weights: [70, 12, 70],
  lower: { min: 0, max: 1, ticks: [0, 0.2, 0.4, 0.6, 0.8, 1], show: [0, 1] },
  upper: { min: 2, max: 10, ticks: [2, 4, 6, 8, 10], show: [2, 4, 6, 8, 10] },
  x: { min: 0.49, max: 23.1, ticks: chrTicks, pad: 4.4 },
  xTitle: 'Chromosome', xTitleFont: chrTitleFont,
  datasets: [
    one(zip(iChrDark, iValDark), 1, dot(DARK, 2.7, 0)),
    one(zip(iChrOrange, iValOrange), 1, dot(ORANGE2, 4.5, 0))
  ],
  notes: { font: '13px ' + FONT,
           points: [{ ds: 0, i: 0, text: iDarkNames[0], dx: 38, dy: -11, align: 'center' },
                    { ds: 1, i: 0, text: iOrangeNames[0], dx: 44, dy: -12, align: 'center' }],
           texts: [{ text: '1 off-target', align: 'left', dx: 5, dy: 8, font: '15px ' + FONT }],
           yTitle: { text: 'A conversion (%)', dx: -44, dy: 67, font: '15px ' + FONT } }
});

// J
brokenPanel({
  box: [320, 1211, 630, 1474], area: [367, 1274, 592, 1425],
  title: ['iREPRESS with NT crRNA', 'miRNAome'], titleLH: 20,
  weights: [69, 13, 69],
  lower: { min: 0, max: 1, ticks: [0, 0.2, 0.4, 0.6, 0.8, 1], show: [0, 1] },
  upper: { min: 2, max: 10, ticks: [2, 4, 6, 8, 10], show: [2, 4, 6, 8, 10] },
  x: { min: 0.19, max: 22.9, ticks: chrTicks, pad: 2.4 },
  xTitle: 'Chromosome', xTitleFont: chrTitleFont,
  datasets: [
    one(zip(jChrLight, jValLight), 1, dot(LIGHT, 3.4, 0)),
    one(zip(jChrDark, jValDark), 1, dot(DARK, 3.4, 0))
  ],
  notes: { font: '13px ' + FONT,
           points: [{ ds: 0, i: 0, text: jLightNames[0], dx: 2, dy: -13, align: 'center' },
                    { ds: 1, i: 0, text: jDarkNames[0], dx: 38, dy: -12, align: 'center' }],
           texts: [{ text: '2 off-targets', align: 'left', dx: 8, dy: 6, font: '15px ' + FONT }],
           yTitle: { text: 'A conversion (%)', dx: -36, dy: 69, font: '15px ' + FONT } }
});
</script>
</body>
</html>
